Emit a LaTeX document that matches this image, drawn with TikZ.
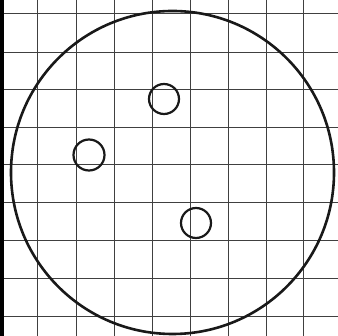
\documentclass[tikz,border=0pt]{standalone}
\begin{document}
\begin{tikzpicture}[x=1pt,y=-1pt,
  gridline/.style={draw=black!75,line width=0.9pt},
  bigring/.style={draw=black!90,line width=2.6pt},
  spot/.style={circle,draw=black!90,line width=2.2pt,minimum size=30pt,inner sep=0pt}]
\useasboundingbox (0,0) rectangle (338,336);
\fill[white] (0,0) rectangle (338,336);
\foreach \x in {37,76,114,152,190,228,266,303} \draw[gridline] (\x,0) -- (\x,336);
\foreach \y in {13,52,89,127,164,202,240,278,316} \draw[gridline] (0,\y) -- (338,\y);
\draw[black,line width=3pt] (2,0) -- (2,336);
\node[circle,draw=none,minimum size=0pt] (c) at (172.5,172.5) {};
\draw[bigring] (c.center) circle[radius=161.5];
\node[spot] (a) at (164,99) {};
\node[spot,minimum size=31pt] (b) at (89,155) {};
\node[spot] (d) at (196,223) {};
\end{tikzpicture}
\end{document}
